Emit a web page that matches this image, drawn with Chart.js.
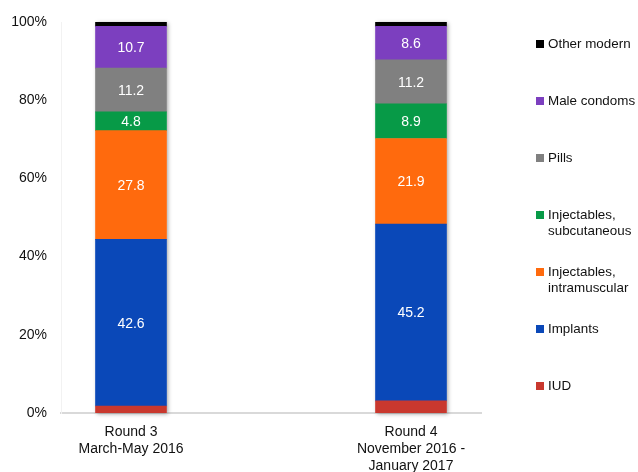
<!DOCTYPE html>
<html>
<head>
<meta charset="utf-8">
<script src="https://cdn.jsdelivr.net/npm/chart.js@4"></script>
<style>
body{margin:0;background:#fff;font-family:"Liberation Sans",Arial,sans-serif;}
#wrap{position:relative;width:638px;height:472px;}
#legend{position:absolute;left:536px;top:36px;width:102px;}
.item{height:57px;display:flex;align-items:flex-start;font-size:13.4px;line-height:16px;color:#111;}
.box{width:8px;height:8px;margin-top:4px;margin-right:4px;flex:none;}
</style>
</head>
<body>
<div id="wrap">
<canvas id="mixChart" width="638" height="472"></canvas>
<div id="legend"></div>
</div>
<script>
// categories (x positions 0 and 1 on the x axis)
const aRounds=[["Round 3","March-May 2016"],["Round 4","November 2016 -","January 2017"]];
const aMethods=["IUD","Implants","Injectables, intramuscular","Injectables, subcutaneous","Pills","Male condoms","Other modern"];
const aColours=["#c9382e","#0a48b8","#ff6a0d","#079a47","#808080","#7c3fbf","#000000"];
// percent of users, round 3 / round 4
const aRound3=[1.8,42.6,27.8,4.8,11.2,10.7,1.1];
const aRound4=[3.1,45.2,21.9,8.9,11.2,8.6,1.1];
const aShowLabel=[false,true,true,true,true,true,false];
const aYTicks=[0,20,40,60,80,100];

let aData=[];
aMethods.forEach((name,index)=>{
    aData.push({
        label:name,
        data:[{x:0,y:aRound3[index]},{x:1,y:aRound4[index]}],
        backgroundColor:aColours[index],
        barThickness:71,
        borderWidth:0
    });
});

// soft shadow behind each whole stacked bar
const barShadow={
    id:"barShadow",
    beforeDatasetsDraw(chart){
        const ctx=chart.ctx;
        const first=chart.getDatasetMeta(0).data;
        const last=chart.getDatasetMeta(aMethods.length-1).data;
        ctx.save();
        ctx.shadowColor="rgba(0,0,0,0.35)";
        ctx.shadowBlur=4;
        ctx.shadowOffsetX=1;
        ctx.shadowOffsetY=1;
        ctx.fillStyle="#fff";
        first.forEach((bar,i)=>{
            const top=last[i].y;
            const w=bar.width;
            ctx.fillRect(bar.x-w/2,top,w,bar.base-top);
        });
        ctx.restore();
    }
};

// white value labels in the middle of each segment
const segLabels={
    id:"segLabels",
    afterDatasetsDraw(chart){
        const ctx=chart.ctx;
        ctx.save();
        ctx.font='14px "Liberation Sans", Arial, sans-serif';
        ctx.fillStyle="#fff";
        ctx.textAlign="center";
        ctx.textBaseline="middle";
        chart.data.datasets.forEach((ds,di)=>{
            if(!aShowLabel[di]) return;
            chart.getDatasetMeta(di).data.forEach((bar,i)=>{
                ctx.fillText(ds.data[i].y.toFixed(1),bar.x,(bar.y+bar.base)/2+1);
            });
        });
        ctx.restore();
    }
};

let config={
    type:"bar",
    data:{datasets:aData},
    options:{
        responsive:false,
        animation:false,
        layout:{padding:{top:22,right:157,bottom:0,left:0}},
        plugins:{
            legend:{display:false},
            tooltip:{enabled:false}
        },
        scales:{
            x:{
                type:"linear",
                stacked:true,
                offset:false,
                min:-0.25,
                max:1.25,
                afterBuildTicks:s=>{s.ticks=aRounds.map((r,i)=>({value:i}));},
                afterFit:s=>{s.height=59;},
                grid:{display:false},
                border:{display:true,color:"#d9d9d9",width:2},
                ticks:{
                    padding:3,
                    maxRotation:0,
                    color:"#111",
                    font:{family:"Liberation Sans",size:14},
                    callback:v=>aRounds[v]
                }
            },
            y:{
                stacked:true,
                min:0,
                max:100,
                afterBuildTicks:s=>{s.ticks=aYTicks.map(v=>({value:v}));},
                afterFit:s=>{s.width=61;},
                grid:{display:false},
                border:{display:true,color:"#f2f2f2",width:1},
                ticks:{
                    padding:6,
                    color:"#111",
                    font:{family:"Liberation Sans",size:14},
                    callback:v=>v+"%"
                }
            }
        }
    },
    plugins:[barShadow,segLabels]
};

new Chart(document.getElementById("mixChart").getContext("2d"),config);

// legend, top item first like the stack
const legend=document.getElementById("legend");
const aLegendText=["IUD","Implants","Injectables,<br>intramuscular","Injectables,<br>subcutaneous","Pills","Male condoms","Other modern"];
for(let i=aMethods.length-1;i>=0;i--){
    const div=document.createElement("div");
    div.className="item";
    div.innerHTML='<span class="box" style="background:'+aColours[i]+'"></span><span>'+aLegendText[i]+'</span>';
    legend.appendChild(div);
}
</script>
</body>
</html>
